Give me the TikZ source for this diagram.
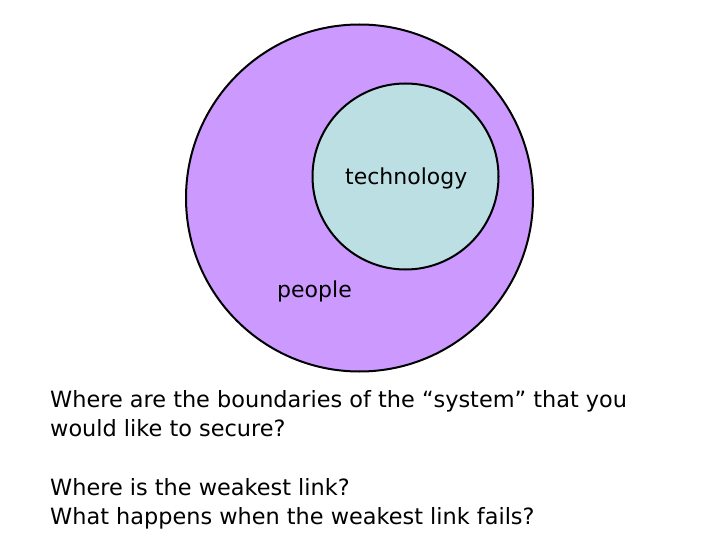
\documentclass[tikz,border=0pt]{standalone}
\usepackage{fontspec}
\setmainfont{DejaVu Sans}
\definecolor{peoplefill}{RGB}{204,153,255}
\definecolor{techfill}{RGB}{187,223,227}
\begin{document}
\begin{tikzpicture}[x=1pt,y=-1pt,
  ring/.style={circle, draw=black, line width=2pt, inner sep=0pt},
  lbl/.style={anchor=base west, inner sep=0pt, font=\fontsize{22}{27}\selectfont},
  qtxt/.style={anchor=base west, inner sep=0pt, font=\fontsize{22.4}{27}\selectfont}]
\useasboundingbox (0,0) rectangle (720,540);
\node[ring, fill=peoplefill, minimum size=347pt] (people) at (359.5,198) {};
\node[ring, fill=techfill, minimum size=186pt] (tech) at (405.5,176.5) {};
\node[lbl] (techlbl) at (345,185) {technology};
\node[lbl] (peoplelbl) at (277,297) {people};
\node[qtxt] (q1) at (50,407) {Where are the boundaries of the “system” that you};
\node[qtxt] (q2) at (50,436) {would like to secure?};
\node[qtxt] (q3) at (50,495) {Where is the weakest link?};
\node[qtxt] (q4) at (50,524) {What happens when the weakest link fails?};
\end{tikzpicture}
\end{document}
